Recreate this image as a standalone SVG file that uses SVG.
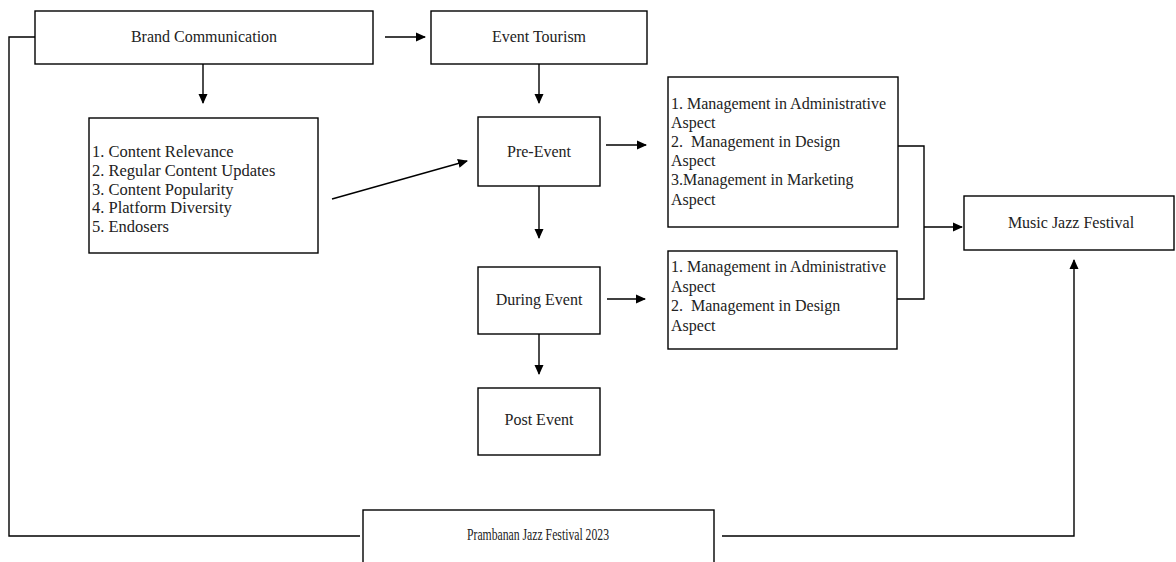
<svg xmlns="http://www.w3.org/2000/svg" width="1176" height="562" viewBox="0 0 1176 562">
<style>
.box{fill:#fff;stroke:#000;stroke-width:1.4}
.t{font-family:"Liberation Serif","Times New Roman",serif;font-size:16px;fill:#222}
.c{text-anchor:middle}
.ln{fill:none;stroke:#000;stroke-width:1.4}
</style>
<defs>
<marker id="ah" markerWidth="10" markerHeight="10" refX="9" refY="5" orient="auto" markerUnits="userSpaceOnUse">
<path d="M0,0.5 L10,5 L0,9.5 Z" fill="#000"/>
</marker>
</defs>
<rect width="1176" height="562" fill="#fff"/>
<g id="connectors">
<path class="ln" d="M35,37 H9 V536 H360"/>
<path class="ln" d="M722,536 H1074 V260" marker-end="url(#ah)"/>
<path class="ln" d="M385,37 H425" marker-end="url(#ah)"/>
<path class="ln" d="M203,64 V103" marker-end="url(#ah)"/>
<path class="ln" d="M539,64 V103" marker-end="url(#ah)"/>
<path class="ln" d="M332,199 L467,161" marker-end="url(#ah)"/>
<path class="ln" d="M606,145 H646" marker-end="url(#ah)"/>
<path class="ln" d="M539,186 V238" marker-end="url(#ah)"/>
<path class="ln" d="M607,299 H645" marker-end="url(#ah)"/>
<path class="ln" d="M539,334 V374" marker-end="url(#ah)"/>
<path class="ln" d="M898,146 H924 V299 H897"/>
<path class="ln" d="M924,227 H962" marker-end="url(#ah)"/>
</g>
<g id="brand">
<rect class="box" x="35" y="11" width="338" height="53"/>
<text class="t c" x="204" y="42">Brand Communication</text>
</g>
<g id="event-tourism">
<rect class="box" x="431" y="11" width="216" height="53"/>
<text class="t c" x="539" y="42">Event Tourism</text>
</g>
<g id="content-list">
<rect class="box" x="89" y="118" width="229" height="135"/>
<text class="t" x="92" y="157" style="font-size:16.5px">1. Content Relevance</text>
<text class="t" x="92" y="175.75" style="font-size:16.5px">2. Regular Content Updates</text>
<text class="t" x="92" y="194.5" style="font-size:16.5px">3. Content Popularity</text>
<text class="t" x="92" y="213.25" style="font-size:16.5px">4. Platform Diversity</text>
<text class="t" x="92" y="232" style="font-size:16.5px">5. Endosers</text>
</g>
<g id="pre-event">
<rect class="box" x="478" y="117" width="122" height="69"/>
<text class="t c" x="539" y="157">Pre-Event</text>
</g>
<g id="mgmt-pre">
<rect class="box" x="668" y="77" width="230" height="150"/>
<text class="t" x="671" y="108.5" xml:space="preserve">1. Management in Administrative</text>
<text class="t" x="671" y="127.7">Aspect</text>
<text class="t" x="671" y="146.9" xml:space="preserve">2.  Management in Design</text>
<text class="t" x="671" y="166.1">Aspect</text>
<text class="t" x="671" y="185.3">3.Management in Marketing</text>
<text class="t" x="671" y="204.5">Aspect</text>
</g>
<g id="during-event">
<rect class="box" x="478" y="267" width="122" height="67"/>
<text class="t c" x="539" y="305">During Event</text>
</g>
<g id="mgmt-during">
<rect class="box" x="668" y="251" width="229" height="98"/>
<text class="t" x="671" y="272" xml:space="preserve">1. Management in Administrative</text>
<text class="t" x="671" y="291.5">Aspect</text>
<text class="t" x="671" y="311" xml:space="preserve">2.  Management in Design</text>
<text class="t" x="671" y="330.5">Aspect</text>
</g>
<g id="post-event">
<rect class="box" x="478" y="388" width="122" height="67"/>
<text class="t c" x="539" y="425">Post Event</text>
</g>
<g id="music-jazz">
<rect class="box" x="964" y="196" width="210" height="54"/>
<text class="t c" x="1071" y="228">Music Jazz Festival</text>
</g>
<g id="prambanan">
<rect class="box" x="363" y="510" width="351" height="60"/>
<text class="t c" x="538" y="540" textLength="142" lengthAdjust="spacingAndGlyphs">Prambanan Jazz Festival 2023</text>
</g>
</svg>
